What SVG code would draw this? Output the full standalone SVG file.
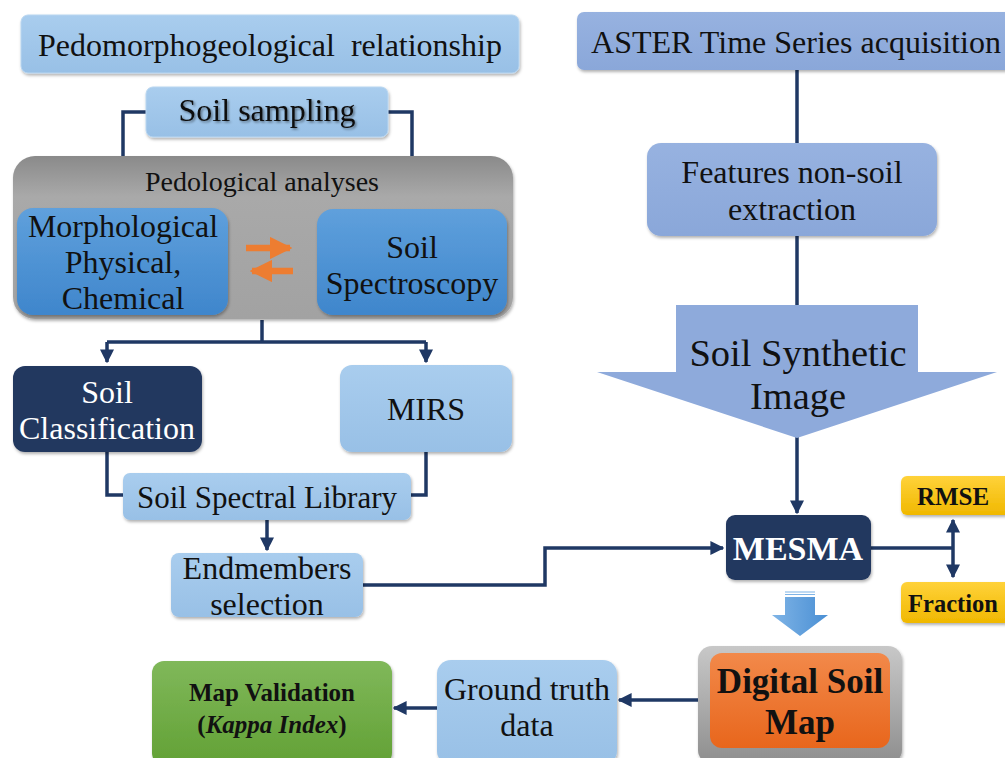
<svg xmlns="http://www.w3.org/2000/svg" width="1005" height="758" viewBox="0 0 1005 758" font-family="'Liberation Serif','Times New Roman',serif">
<defs>
<linearGradient id="gLight" x1="0" y1="0" x2="0" y2="1"><stop offset="0" stop-color="#a9cdee"/><stop offset="1" stop-color="#98c0e6"/></linearGradient>
<linearGradient id="gPeri" x1="0" y1="0" x2="0" y2="1"><stop offset="0" stop-color="#97b2e0"/><stop offset="1" stop-color="#8aa7d9"/></linearGradient>
<linearGradient id="gBlue" x1="0" y1="0" x2="0" y2="1"><stop offset="0" stop-color="#5fa0dc"/><stop offset="1" stop-color="#3f86cc"/></linearGradient>
<linearGradient id="gGray" x1="0" y1="0" x2="0" y2="1"><stop offset="0" stop-color="#8a8a8a"/><stop offset="0.25" stop-color="#a9a9a9"/><stop offset="1" stop-color="#a2a2a2"/></linearGradient>
<linearGradient id="gGold" x1="0" y1="0" x2="0" y2="1"><stop offset="0" stop-color="#ffd23a"/><stop offset="1" stop-color="#f0b800"/></linearGradient>
<linearGradient id="gGreen" x1="0" y1="0" x2="0" y2="1"><stop offset="0" stop-color="#80b85a"/><stop offset="1" stop-color="#62a135"/></linearGradient>
<linearGradient id="gOrange" x1="0" y1="0" x2="0" y2="1"><stop offset="0" stop-color="#f2894a"/><stop offset="1" stop-color="#e8661c"/></linearGradient>
<linearGradient id="gFrame" x1="0" y1="0" x2="0" y2="1"><stop offset="0" stop-color="#c8c8c8"/><stop offset="1" stop-color="#8e8e8e"/></linearGradient>
<linearGradient id="gBlock" x1="0" y1="0" x2="1" y2="0"><stop offset="0" stop-color="#7fb4e6"/><stop offset="1" stop-color="#4a8fd4"/></linearGradient>
<filter id="sh" x="-10%" y="-10%" width="120%" height="130%"><feDropShadow dx="1" dy="2" stdDeviation="1.5" flood-color="#000" flood-opacity="0.3"/></filter>
<filter id="tsh" x="-5%" y="-20%" width="110%" height="140%"><feDropShadow dx="1.5" dy="1.5" stdDeviation="0.8" flood-color="#000" flood-opacity="0.45"/></filter>
<marker id="ah" viewBox="0 0 10 10" refX="9" refY="5" markerWidth="4" markerHeight="4" orient="auto-start-reverse" markerUnits="strokeWidth"><path d="M0,0 L10,5 L0,10 z" fill="#1f3864"/></marker>
<marker id="ao" viewBox="0 0 10 10" refX="9" refY="5" markerWidth="3.5" markerHeight="3.5" orient="auto" markerUnits="strokeWidth"><path d="M0,0 L10,5 L0,10 z" fill="#ed7d31"/></marker>
</defs>
<style>
text{font-family:"Liberation Serif","Times New Roman",serif;fill:#111;text-anchor:middle;font-size:32px}
.b{font-weight:bold}
.w{fill:#fff}
.conn{fill:none;stroke:#1f3864;stroke-width:3.5}
</style>
<rect width="1005" height="758" fill="#fff"/>

<g id="connectors">
<path class="conn" d="M146,112 H123 V203" marker-end="url(#ah)"/>
<path class="conn" d="M388,112 H412 V205" marker-end="url(#ah)"/>
<path class="conn" d="M262,320 V342"/>
<path class="conn" d="M107,342 H426"/>
<path class="conn" d="M107,342 V362" marker-end="url(#ah)"/>
<path class="conn" d="M426,342 V362" marker-end="url(#ah)"/>
<path class="conn" d="M107,452 V495 H124"/>
<path class="conn" d="M426,452 V495 H410"/>
<path class="conn" d="M267,520 V550" marker-end="url(#ah)"/>
<path class="conn" d="M363,585 H545 V548 H723" marker-end="url(#ah)"/>
<path class="conn" d="M797,70 V143"/>
<path class="conn" d="M797,236 V306"/>
<path class="conn" d="M797,436 V513" marker-end="url(#ah)"/>
<path class="conn" d="M871,548 H953"/>
<path class="conn" d="M953,520 V577" marker-start="url(#ah)" marker-end="url(#ah)"/>
<path class="conn" d="M710,700 H619" marker-end="url(#ah)"/>
<path class="conn" d="M437,708 H394" marker-end="url(#ah)"/>
</g>

<g id="pedomorpho">
<rect x="21" y="15" width="498" height="58" rx="7" fill="url(#gLight)" stroke="#b9d6f0" stroke-width="1" filter="url(#sh)"/>
<text x="270" y="56" xml:space="preserve">Pedomorphogeological  relationship</text>
</g>

<g id="soil-sampling">
<rect x="146" y="87" width="242" height="50" rx="7" fill="url(#gLight)" stroke="#b9d6f0" filter="url(#sh)"/>
<text x="267" y="121" filter="url(#tsh)">Soil sampling</text>
</g>

<g id="pedological-analyses">
<rect x="13" y="156" width="500" height="163" rx="22" fill="url(#gGray)" filter="url(#sh)"/>
<text x="262" y="191" style="font-size:28px">Pedological analyses</text>
</g>

<g id="morphological">
<rect x="17" y="208" width="211" height="107" rx="16" fill="url(#gBlue)" filter="url(#sh)"/>
<text x="123" y="237">Morphological</text>
<text x="123" y="273">Physical,</text>
<text x="123" y="309">Chemical</text>
</g>

<g id="orange-arrows">
<path d="M246,248 H290" stroke="#ed7d31" stroke-width="6.5" fill="none" marker-end="url(#ao)"/>
<path d="M293,271 H252" stroke="#ed7d31" stroke-width="6.5" fill="none" marker-end="url(#ao)"/>
</g>

<g id="soil-spectroscopy">
<rect x="317" y="209" width="190" height="106" rx="16" fill="url(#gBlue)" filter="url(#sh)"/>
<text x="412" y="258">Soil</text>
<text x="412" y="294">Spectroscopy</text>
</g>

<g id="soil-classification">
<rect x="13" y="366" width="189" height="86" rx="12" fill="#22375f" filter="url(#sh)"/>
<text class="w" x="107" y="403">Soil</text>
<text class="w" x="107" y="439">Classification</text>
</g>

<g id="mirs">
<rect x="340" y="365" width="172" height="87" rx="12" fill="url(#gLight)" filter="url(#sh)"/>
<text x="426" y="420">MIRS</text>
</g>

<g id="soil-spectral-library">
<rect x="123" y="473" width="288" height="47" rx="7" fill="url(#gLight)" filter="url(#sh)"/>
<text x="267" y="508" style="font-size:31px">Soil Spectral Library</text>
</g>

<g id="endmembers">
<rect x="171" y="553" width="192" height="64" rx="8" fill="url(#gLight)" filter="url(#sh)"/>
<text x="267" y="579">Endmembers</text>
<text x="267" y="615">selection</text>
</g>

<g id="aster">
<rect x="577" y="12" width="440" height="58" rx="7" fill="url(#gPeri)" filter="url(#sh)"/>
<text x="796" y="53">ASTER Time Series acquisition</text>
</g>

<g id="features">
<rect x="647" y="143" width="290" height="93" rx="14" fill="url(#gPeri)" filter="url(#sh)"/>
<text x="792" y="183">Features non-soil</text>
<text x="792" y="220">extraction</text>
</g>

<g id="soil-synthetic-image">
<path d="M676,305 H918 V372 H997 L797,438 L597,372 H676 Z" fill="#8eaadb"/>
<text x="798" y="366" style="font-size:38.5px">Soil Synthetic</text>
<text x="798" y="409" style="font-size:38.5px">Image</text>
</g>

<g id="mesma">
<rect x="726" y="515" width="145" height="65" rx="9" fill="#22375f" filter="url(#sh)"/>
<text class="b w" x="798" y="560" style="font-size:34px">MESMA</text>
</g>

<g id="rmse">
<rect x="901" y="476" width="110" height="39" rx="6" fill="url(#gGold)" filter="url(#sh)"/>
<text class="b" x="953" y="505" style="font-size:25px">RMSE</text>
</g>

<g id="fraction">
<rect x="901" y="582" width="110" height="41" rx="6" fill="url(#gGold)" filter="url(#sh)"/>
<text class="b" x="953" y="612" style="font-size:24.5px">Fraction</text>
</g>

<g id="block-arrow">
<path d="M785,597 H815 V615 H828 L800,636 L772,615 H785 Z" fill="url(#gBlock)"/>
<path d="M785,592 H815 M785,594.5 H815" stroke="#7fb4e6" stroke-width="1.2"/>
</g>

<g id="digital-soil-map">
<rect x="698" y="646" width="204" height="118" rx="14" fill="url(#gFrame)" filter="url(#sh)"/>
<rect x="710" y="653" width="180" height="95" rx="12" fill="url(#gOrange)"/>
<text class="b" x="800" y="693" style="font-size:35px">Digital Soil</text>
<text class="b" x="800" y="734" style="font-size:35px">Map</text>
</g>

<g id="ground-truth">
<rect x="437" y="660" width="180" height="105" rx="14" fill="url(#gLight)" filter="url(#sh)"/>
<text x="527" y="700">Ground truth</text>
<text x="527" y="736">data</text>
</g>

<g id="map-validation">
<rect x="152" y="661" width="240" height="104" rx="12" fill="url(#gGreen)" filter="url(#sh)"/>
<text class="b" x="272" y="701" style="font-size:25px">Map Validation</text>
<text class="b" x="272" y="733" style="font-size:25px">(<tspan font-style="italic">Kappa Index</tspan>)</text>
</g>
</svg>
